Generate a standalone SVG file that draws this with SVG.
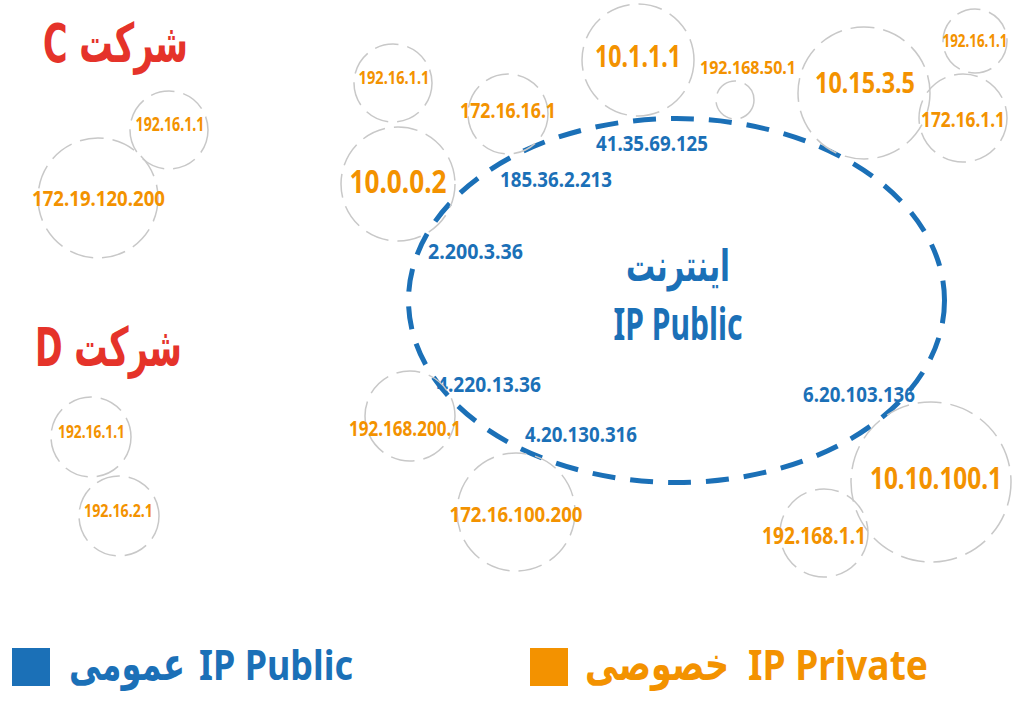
<svg xmlns="http://www.w3.org/2000/svg" width="1024" height="707" viewBox="0 0 1024 707">
<style>
.bg{fill:#ffffff}
.c{fill:none;stroke:#c8c8c8;stroke-width:1.5;stroke-dasharray:24 9}
.inet{fill:none;stroke:#1b70b7;stroke-width:5;stroke-dasharray:23 15}
.o{fill:#f39200;font-family:"Noto Sans","DejaVu Sans",sans-serif;font-weight:700;text-anchor:middle}
.b{fill:#1b70b7;font-family:"Noto Sans","DejaVu Sans",sans-serif;font-weight:700;text-anchor:middle}
.r{fill:#e5332a;font-family:"DejaVu Sans","Noto Sans",sans-serif;font-weight:700}
.fa{font-family:"DejaVu Sans",sans-serif;font-weight:700}
</style>
<rect class="bg" x="0" y="0" width="1024" height="707"/>

<g id="connectors">
<ellipse class="inet" cx="676.5" cy="300.5" rx="268" ry="182"/>
</g>

<g id="internet">
<text class="b fa" x="678" y="281" font-size="44" textLength="104" lengthAdjust="spacingAndGlyphs">اینترنت</text>
<text class="b" x="678" y="340" font-size="44" textLength="129" lengthAdjust="spacingAndGlyphs">IP Public</text>
<text class="b" x="652" y="151" font-size="21" textLength="112" lengthAdjust="spacingAndGlyphs">41.35.69.125</text>
<text class="b" x="556" y="187" font-size="21" textLength="112" lengthAdjust="spacingAndGlyphs">185.36.2.213</text>
<text class="b" x="475.5" y="259" font-size="21" textLength="95" lengthAdjust="spacingAndGlyphs">2.200.3.36</text>
<text class="b" x="489" y="392" font-size="21" textLength="104" lengthAdjust="spacingAndGlyphs">4.220.13.36</text>
<text class="b" x="581" y="442" font-size="21" textLength="112" lengthAdjust="spacingAndGlyphs">4.20.130.316</text>
<text class="b" x="859" y="402" font-size="21" textLength="112" lengthAdjust="spacingAndGlyphs">6.20.103.136</text>
</g>

<g id="company-c">
<text class="r" x="188" y="62" font-size="54" direction="rtl" text-anchor="start" textLength="145" lengthAdjust="spacingAndGlyphs">شرکت C</text>
</g>
<g id="c-192-16-1-1">
<circle class="c" cx="169" cy="130" r="39"/>
<text class="o" x="170" y="131" font-size="19" textLength="69" lengthAdjust="spacingAndGlyphs">192.16.1.1</text>
</g>
<g id="c-172-19-120-200">
<circle class="c" cx="98" cy="198" r="60"/>
<text class="o" x="98.5" y="206" font-size="21" textLength="133" lengthAdjust="spacingAndGlyphs">172.19.120.200</text>
</g>

<g id="company-d">
<text class="r" x="182" y="366" font-size="54" direction="rtl" text-anchor="start" textLength="147" lengthAdjust="spacingAndGlyphs">شرکت D</text>
</g>
<g id="d-192-16-1-1">
<circle class="c" cx="91" cy="437" r="40"/>
<text class="o" x="91.5" y="438" font-size="17" textLength="67" lengthAdjust="spacingAndGlyphs">192.16.1.1</text>
</g>
<g id="d-192-16-2-1">
<circle class="c" cx="119" cy="516" r="40"/>
<text class="o" x="118.5" y="517" font-size="17" textLength="69" lengthAdjust="spacingAndGlyphs">192.16.2.1</text>
</g>

<g id="n-192-16-1-1-mid">
<circle class="c" cx="393" cy="83" r="39"/>
<text class="o" x="394" y="84" font-size="17.5" textLength="71" lengthAdjust="spacingAndGlyphs">192.16.1.1</text>
</g>
<g id="n-10-0-0-2">
<circle class="c" cx="398" cy="184" r="57"/>
<text class="o" x="398" y="193" font-size="32" textLength="97" lengthAdjust="spacingAndGlyphs">10.0.0.2</text>
</g>
<g id="n-172-16-16-1">
<circle class="c" cx="508" cy="114" r="40"/>
<text class="o" x="508" y="118" font-size="22" textLength="96" lengthAdjust="spacingAndGlyphs">172.16.16.1</text>
</g>
<g id="n-10-1-1-1">
<circle class="c" cx="638" cy="60" r="56"/>
<text class="o" x="638" y="67" font-size="31" textLength="86" lengthAdjust="spacingAndGlyphs">10.1.1.1</text>
</g>
<g id="n-192-168-50-1">
<circle class="c" cx="735" cy="100" r="19"/>
<text class="o" x="748" y="74" font-size="18" textLength="96" lengthAdjust="spacingAndGlyphs">192.168.50.1</text>
</g>
<g id="n-10-15-3-5">
<circle class="c" cx="864" cy="93" r="66"/>
<text class="o" x="865" y="93" font-size="29" textLength="100" lengthAdjust="spacingAndGlyphs">10.15.3.5</text>
</g>
<g id="n-192-16-1-1-tr">
<circle class="c" cx="975" cy="41" r="32"/>
<text class="o" x="975" y="47" font-size="18" textLength="65" lengthAdjust="spacingAndGlyphs">192.16.1.1</text>
</g>
<g id="n-172-16-1-1">
<circle class="c" cx="963" cy="118" r="44"/>
<text class="o" x="963" y="127" font-size="22" textLength="84" lengthAdjust="spacingAndGlyphs">172.16.1.1</text>
</g>
<g id="n-192-168-200-1">
<circle class="c" cx="410" cy="416" r="45"/>
<text class="o" x="405" y="436" font-size="21" textLength="112" lengthAdjust="spacingAndGlyphs">192.168.200.1</text>
</g>
<g id="n-172-16-100-200">
<circle class="c" cx="516" cy="512" r="59"/>
<text class="o" x="516" y="522" font-size="22" textLength="133" lengthAdjust="spacingAndGlyphs">172.16.100.200</text>
</g>
<g id="n-10-10-100-1">
<circle class="c" cx="931" cy="482" r="80"/>
<text class="o" x="936" y="489" font-size="31" textLength="132" lengthAdjust="spacingAndGlyphs">10.10.100.1</text>
</g>
<g id="n-192-168-1-1">
<circle class="c" cx="824" cy="533" r="44"/>
<text class="o" x="814" y="544" font-size="23" textLength="104" lengthAdjust="spacingAndGlyphs">192.168.1.1</text>
</g>

<g id="legend-public">
<rect x="12" y="648" width="38" height="38" fill="#1b70b7"/>
<text class="b fa" x="127" y="680" font-size="46" textLength="116" lengthAdjust="spacingAndGlyphs">عمومی</text>
<text class="b" x="276" y="680" font-size="42" textLength="154" lengthAdjust="spacingAndGlyphs">IP Public</text>
</g>
<g id="legend-private">
<rect x="530" y="648" width="38" height="38" fill="#f39200"/>
<text class="o fa" x="657" y="680" font-size="46" textLength="144" lengthAdjust="spacingAndGlyphs">خصوصی</text>
<text class="o" x="838" y="680" font-size="42" textLength="180" lengthAdjust="spacingAndGlyphs">IP Private</text>
</g>
</svg>
